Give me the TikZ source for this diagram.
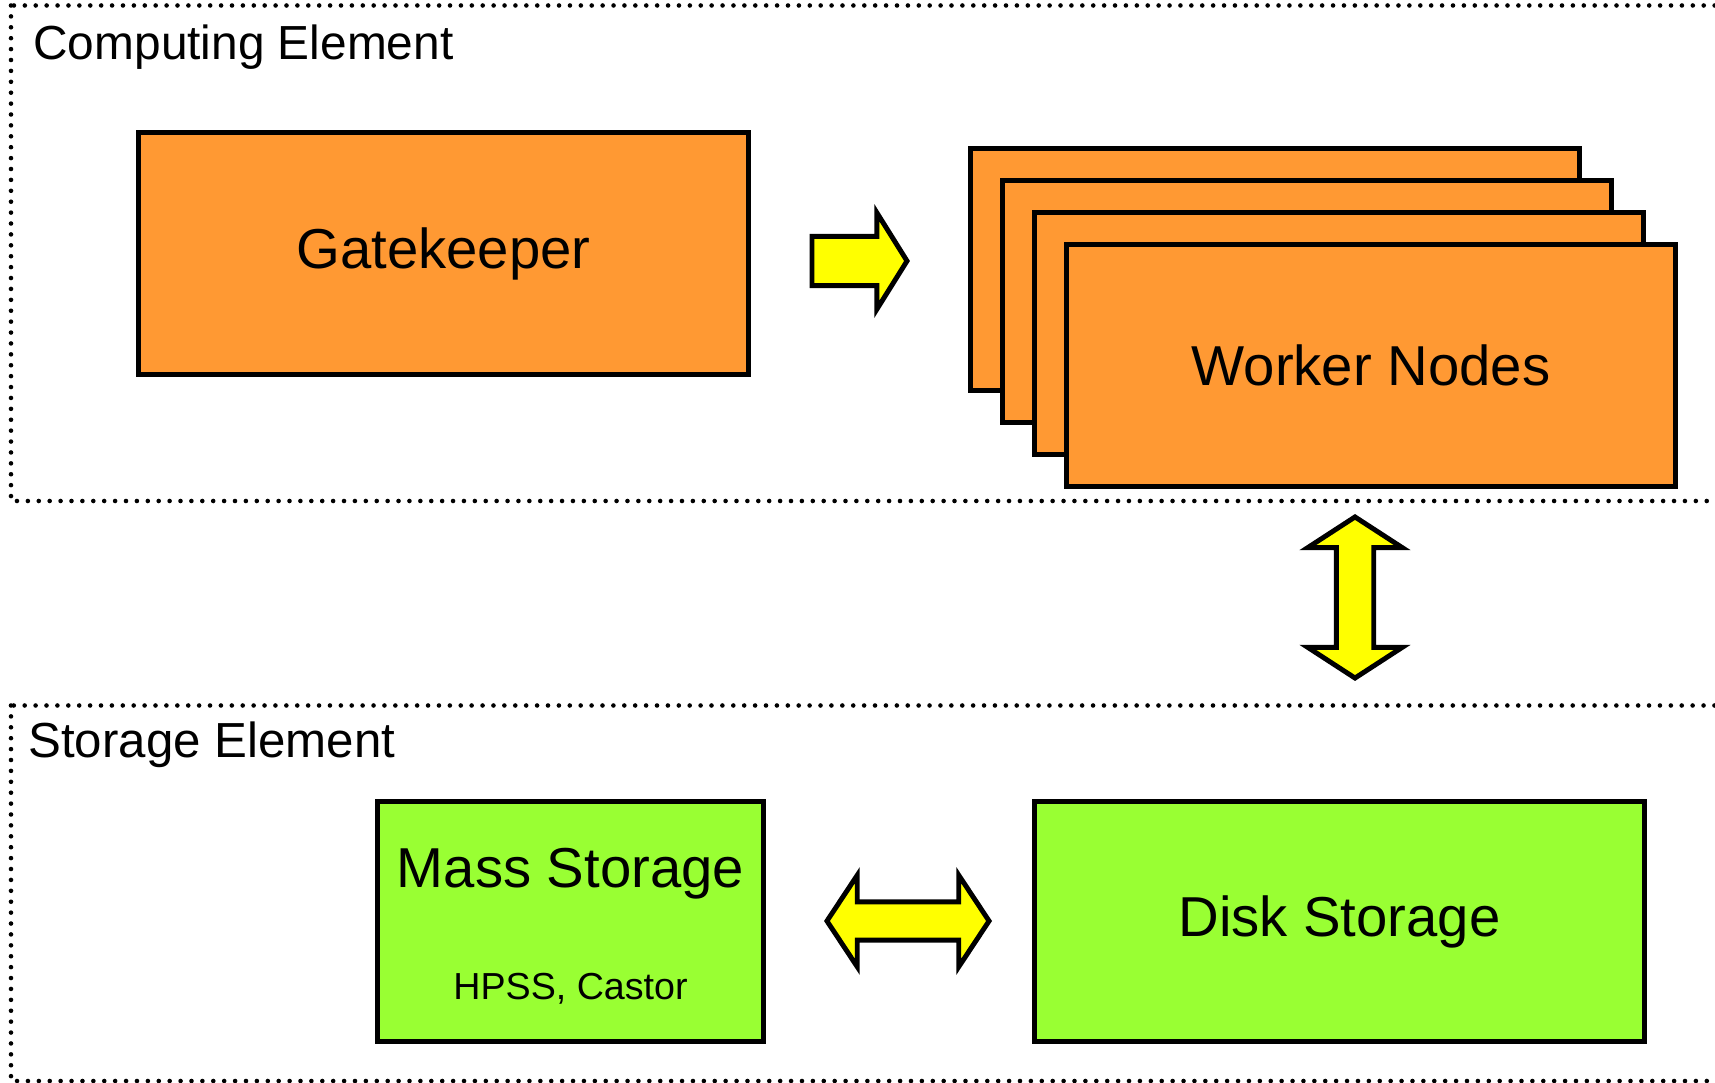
\documentclass[tikz,border=0pt]{standalone}
\usepackage{fontspec}
\setmainfont{Liberation Sans}
\usetikzlibrary{shapes.arrows}
\definecolor{boxorange}{RGB}{255,153,51}
\definecolor{boxgreen}{RGB}{153,255,51}
\definecolor{arrowyellow}{RGB}{255,255,0}

\begin{document}
\begin{tikzpicture}[x=0.01cm, y=-0.01cm, line width=1.4pt,
		frame/.style={line width=1.3pt, line cap=round, dash pattern=on 0pt off 3.1pt},
		title/.style={anchor=base west, inner sep=0pt, font=\fontsize{14}{16}\selectfont},
		big/.style={font=\fontsize{16}{19}\selectfont},
		cpu/.style={draw, fill=boxorange, minimum width=6.09cm, minimum height=2.41cm, big},
		store/.style={draw, fill=boxgreen, minimum height=2.39cm, big},
		blockarrow/.style={draw, fill=arrowyellow, inner xsep=0pt, text height=0pt, text depth=0pt}]
		\useasboundingbox (0,0) rectangle (1715,1083);

		% the two dotted frames
		\draw[frame] (11,5.5) rectangle (1730,501);
		\draw[frame] (11,705.5) rectangle (1730,1081);
		\node[title, font=\fontsize{13.6}{16}\selectfont] (ce) at (31,60) {Computing Element};
		\node[title] (se) at (26,758) {Storage Element};

		% computing element
		\node[cpu] (gate) at (443.5,253.5) {Gatekeeper};
		\foreach \k in {3,2,1}
			\node[cpu] (wn\k) at ({1371-32*\k},{365.5-32*\k}) {};
		\node[cpu] (wn) at (1371,365.5) {Worker Nodes};

		% storage element
		\node[store, minimum width=3.85cm] (mass) at (570.5,921.5) {};
		\node[anchor=base, big] (masstext) at (570.5,888) {Mass Storage};
		\node[anchor=base, font=\fontsize{10.7}{13}\selectfont] (masssub) at (570.5,1000) {HPSS, Castor};
		\node[store, minimum width=6.09cm] (disk) at (1339.5,921.5) {Disk Storage};

		% block arrows
		\node[blockarrow, shape=single arrow, anchor=tail, inner ysep=0.221cm, minimum height=0.95cm,
			single arrow head extend=0.238cm, single arrow tip angle=116] (toworkers) at (809.5,261) {};
		\node[blockarrow, shape=double arrow, rotate=90, inner ysep=0.1625cm, minimum height=1.61cm,
			double arrow head extend=0.285cm, double arrow tip angle=114] (wn2disk) at (1355,597.5) {};
		\node[blockarrow, shape=double arrow, inner ysep=0.166cm, minimum height=1.62cm,
			double arrow head extend=0.267cm, double arrow tip angle=113] (mass2disk) at (908,921) {};
	\end{tikzpicture}
\end{document}
